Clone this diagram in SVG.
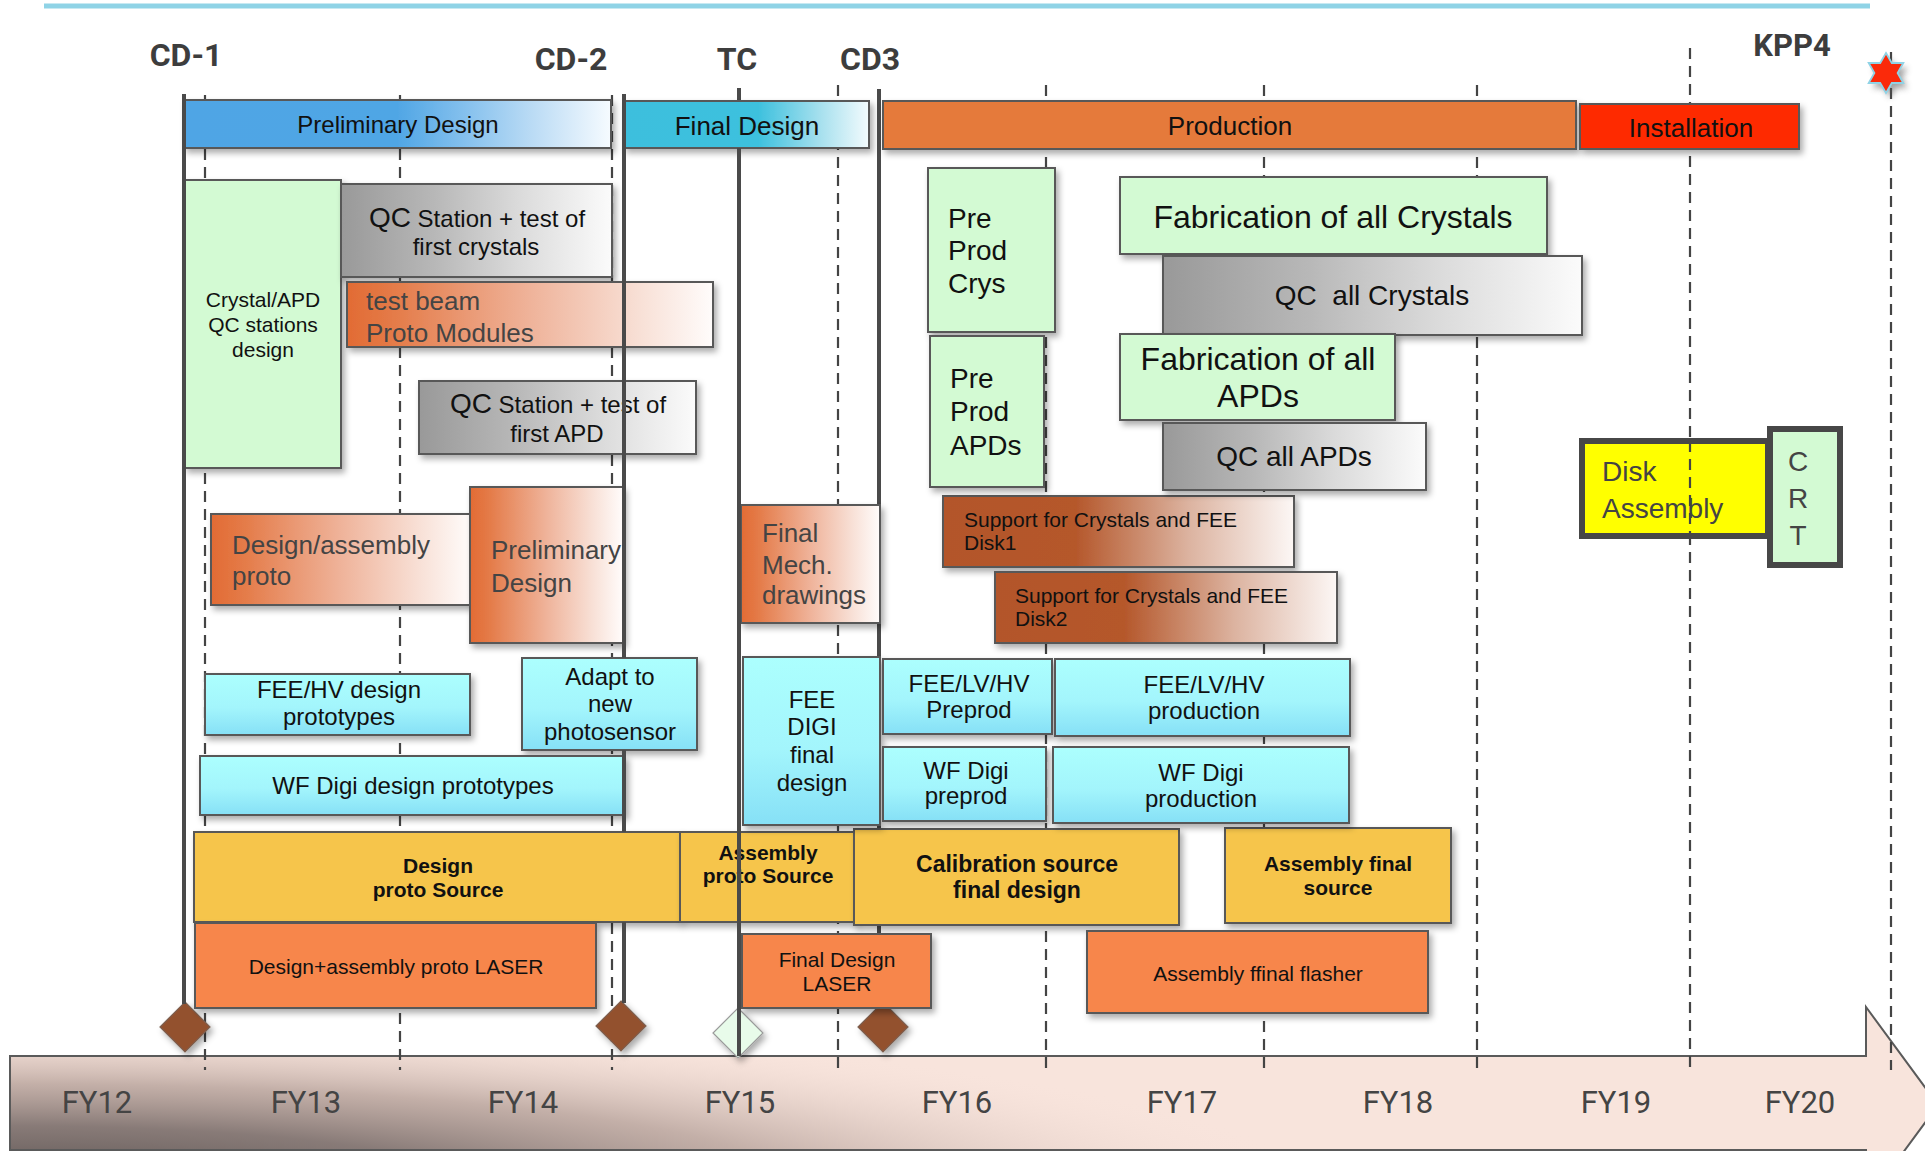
<svg xmlns="http://www.w3.org/2000/svg" width="1925" height="1151" viewBox="0 0 1925 1151">
<defs>
<style>
.t{font-family:"Liberation Sans",Arial,Helvetica,sans-serif;fill:#111}
.c{text-anchor:middle}
.g{fill:#444}
.b{font-weight:bold}
.s21{font-size:21px}.s23{font-size:23px}.s24{font-size:24px}.s26{font-size:26px}.s28{font-size:28px}.s32{font-size:32px}
.box{stroke:#595959;stroke-width:2;filter:url(#sh)}
.dash{stroke:#444;stroke-width:2.2;stroke-dasharray:11 7;fill:none}
.ms{stroke:#4a4a4a;stroke-width:4;fill:none}
.lbl{font-family:Roboto,"Liberation Sans",sans-serif;font-weight:bold;fill:#3d3d3d;font-size:32px;text-anchor:middle}
.fy{font-family:Roboto,"Liberation Sans",sans-serif;fill:#444;font-size:31px;text-anchor:middle}
.green{fill:#d3fad3}
.gray{fill:url(#gGray)}
.org{fill:url(#gOrange)}
.cyan{fill:url(#gCyan)}
.yel{fill:#f6c54b}
.laser{fill:#f7864b}
.brown{fill:url(#gBrown)}
.dia{stroke:#7d6050;stroke-width:1.2;fill:#93512f;filter:url(#sh)}
.thick{stroke:#474747;stroke-width:6}
</style>
<filter id="sh" x="-10%" y="-10%" width="130%" height="140%">
<feDropShadow dx="3" dy="4" stdDeviation="3" flood-color="#000" flood-opacity="0.33"/>
</filter>
<filter id="blur" x="-50%" y="-50%" width="200%" height="200%"><feGaussianBlur stdDeviation="3"/></filter>
<linearGradient id="gBlue" x1="0" y1="0" x2="1" y2="0">
<stop offset="0" stop-color="#4fa5e5"/><stop offset="0.5" stop-color="#50a6e5"/><stop offset="0.65" stop-color="#82bfed"/><stop offset="0.82" stop-color="#bcdcf5"/><stop offset="1" stop-color="#f6fbff"/>
</linearGradient>
<linearGradient id="gFinal" x1="0" y1="0" x2="1" y2="0">
<stop offset="0" stop-color="#3cbfdd"/><stop offset="0.55" stop-color="#3ec1de"/><stop offset="0.8" stop-color="#a6e0ee"/><stop offset="1" stop-color="#f3fbfd"/>
</linearGradient>
<linearGradient id="gGray" x1="0" y1="0" x2="1" y2="0">
<stop offset="0" stop-color="#999"/><stop offset="0.35" stop-color="#b8b8b8"/><stop offset="0.65" stop-color="#dadada"/><stop offset="1" stop-color="#fbfbfb"/>
</linearGradient>
<linearGradient id="gOrange" x1="0" y1="0" x2="1" y2="0">
<stop offset="0" stop-color="#e26b34"/><stop offset="0.12" stop-color="#e47a47"/><stop offset="0.5" stop-color="#efb39a"/><stop offset="0.8" stop-color="#f8e0d6"/><stop offset="1" stop-color="#fffcfb"/>
</linearGradient>
<linearGradient id="gBrown" x1="0" y1="0" x2="1" y2="0">
<stop offset="0" stop-color="#b3552a"/><stop offset="0.38" stop-color="#b5582c"/><stop offset="0.7" stop-color="#dcb3a0"/><stop offset="1" stop-color="#fcf7f5"/>
</linearGradient>
<linearGradient id="gCyan" x1="0" y1="0" x2="0" y2="1">
<stop offset="0" stop-color="#acfffe"/><stop offset="0.55" stop-color="#a3f5fc"/><stop offset="1" stop-color="#86e0f6"/>
</linearGradient>
<radialGradient id="gDark" gradientUnits="userSpaceOnUse" cx="10" cy="1185" r="1300" gradientTransform="translate(0,1185) scale(1,0.13) translate(0,-1185)">
<stop offset="0" stop-color="#5a5250" stop-opacity="1"/><stop offset="0.35" stop-color="#827572" stop-opacity="0.95"/><stop offset="0.6" stop-color="#ad9992" stop-opacity="0.7"/><stop offset="0.85" stop-color="#dfcbc3" stop-opacity="0.3"/><stop offset="1" stop-color="#f8e4dc" stop-opacity="0"/>
</radialGradient>
</defs>

<rect x="0" y="0" width="1925" height="1151" fill="#fff"/>
<rect x="44" y="3.5" width="1826" height="5" fill="#8fd3e6"/>

<g id="timeline">
<path d="M10,1056 H1866 V1007 L1938,1105 L1866,1203 V1150 H10 Z" fill="#f8e4dc" stroke="#5a5a5a" stroke-width="2"/>
<path d="M11,1057 H1866 V1007 L1938,1105 L1866,1203 V1149 H11 Z" fill="url(#gDark)"/>
<text class="fy" x="97" y="1113">FY12</text>
<text class="fy" x="306" y="1113">FY13</text>
<text class="fy" x="523" y="1113">FY14</text>
<text class="fy" x="740" y="1113">FY15</text>
<text class="fy" x="957" y="1113">FY16</text>
<text class="fy" x="1182" y="1113">FY17</text>
<text class="fy" x="1398" y="1113">FY18</text>
<text class="fy" x="1616" y="1113">FY19</text>
<text class="fy" x="1800" y="1113">FY20</text>
</g>

<g id="connectors">
<line class="dash" x1="205" y1="95" x2="205" y2="1070"/>
<line class="dash" x1="400" y1="95" x2="400" y2="1070"/>
<line class="dash" x1="612" y1="95" x2="612" y2="1070"/>
<line class="dash" x1="838" y1="85" x2="838" y2="1070"/>
<line class="dash" x1="1046" y1="85" x2="1046" y2="1070"/>
<line class="dash" x1="1264" y1="85" x2="1264" y2="1070"/>
<line class="dash" x1="1477" y1="85" x2="1477" y2="1070"/>
<line class="dash" x1="1690" y1="48" x2="1690" y2="1070"/>
<line class="dash" x1="1891" y1="52" x2="1891" y2="1070"/>
<line class="ms" x1="879" y1="89" x2="879" y2="1005"/>
<line class="ms" x1="739" y1="88" x2="739" y2="1033"/>
<line class="ms" x1="624" y1="94" x2="624" y2="1003"/>
</g>

<g id="milestones">
<text class="lbl" x="186" y="66">CD-1</text>
<text class="lbl" x="571" y="70">CD-2</text>
<text class="lbl" x="737" y="70">TC</text>
<text class="lbl" x="870" y="70">CD3</text>
<text class="lbl" x="1792" y="56" style="font-size:31px">KPP4</text>
<polygon points="1890,58 1895.8,68 1907.3,68 1901.6,78 1907.3,88 1895.8,88 1890,98 1884.2,88 1872.7,88 1878.4,78 1872.7,68 1884.2,68" fill="#555" opacity="0.55" filter="url(#blur)"/>
<polygon points="1886,53 1891.8,63 1903.3,63 1897.6,73 1903.3,83 1891.8,83 1886,93 1880.2,83 1868.7,83 1874.4,73 1868.7,63 1880.2,63" fill="#fb2a0a" stroke="#8fd3e6" stroke-width="1.8"/>
</g>

<g id="diamonds">
<polygon id="d-cd1" class="dia" points="185,1002 210,1027 185,1052 160,1027"/>
<polygon id="d-cd2" class="dia" points="621,1001 646,1026 621,1051 596,1026"/>
<polygon id="d-cd3" class="dia" points="883,1002 908,1027 883,1052 858,1027"/>
<polygon id="d-tc" class="dia" points="738,1008 763,1033 738,1058 713,1033" style="fill:#e8fbea;stroke:#9a9a9a"/>
</g>

<g id="n-prelim"><rect class="box" x="184" y="100" width="427" height="48" fill="url(#gBlue)"/><text class="t s24 c" x="398" y="133">Preliminary Design</text></g>
<g id="n-final"><rect class="box" x="624" y="101" width="245" height="47" fill="url(#gFinal)"/><text class="t s26 c" x="747" y="135">Final Design</text></g>
<g id="n-production"><rect class="box" x="883" y="101" width="693" height="48" fill="#e57a3a"/><text class="t s26 c" x="1230" y="135">Production</text></g>
<g id="n-install"><rect class="box" x="1580" y="104" width="219" height="45" fill="#fe2b00"/><text class="t s26 c" x="1691" y="137">Installation</text></g>

<g id="n-crysapd"><rect class="box green" x="185" y="180" width="156" height="288"/>
<text class="t s21 c" x="263" y="307">Crystal/APD</text><text class="t s21 c" x="263" y="332">QC stations</text><text class="t s21 c" x="263" y="357">design</text></g>
<g id="n-qccrys"><rect class="box gray" x="341" y="184" width="271" height="93"/>
<text class="t s24 c" x="477" y="227"><tspan style="font-size:28px">QC</tspan> Station + test of</text><text class="t s24 c" x="476" y="255">first crystals</text></g>
<g id="n-testbeam"><rect class="box org" x="347" y="282" width="366" height="65"/>
<text class="t s26 g" x="366" y="310">test beam</text><text class="t s26 g" x="366" y="342">Proto Modules</text></g>
<g id="n-qcapd"><rect class="box gray" x="419" y="381" width="277" height="73"/>
<text class="t s24 c" x="558" y="413"><tspan style="font-size:28px">QC</tspan> Station + test of</text><text class="t s24 c" x="557" y="442">first APD</text></g>

<g id="n-designasm"><rect class="box org" x="211" y="514" width="260" height="91"/>
<text class="t s26 g" x="232" y="554">Design/assembly</text><text class="t s26 g" x="232" y="585">proto</text></g>
<g id="n-prelimorg"><rect class="box org" x="470" y="487" width="153" height="156"/>
<text class="t s26 g" x="491" y="559">Preliminary</text><text class="t s26 g" x="491" y="592">Design</text></g>

<g id="n-feehv"><rect class="box cyan" x="205" y="674" width="265" height="61"/>
<text class="t s24 c" x="339" y="698">FEE/HV design</text><text class="t s24 c" x="339" y="725">prototypes</text></g>
<g id="n-adapt"><rect class="box cyan" x="522" y="658" width="175" height="92"/>
<text class="t s24 c" x="610" y="685">Adapt to</text><text class="t s24 c" x="610" y="712">new</text><text class="t s24 c" x="610" y="740">photosensor</text></g>
<g id="n-wfdesign"><rect class="box cyan" x="200" y="756" width="425" height="59"/>
<text class="t s24 c" x="413" y="794">WF Digi design prototypes</text></g>

<g id="n-srcdesign"><rect class="box yel" x="194" y="832" width="486" height="90"/>
<text class="t s21 b c" x="438" y="873">Design</text><text class="t s21 b c" x="438" y="897">proto Source</text></g>
<g id="n-srcasm"><rect class="box yel" x="680" y="832" width="175" height="90"/>
<text class="t s21 b c" x="768" y="860">Assembly</text><text class="t s21 b c" x="768" y="883">proto Source</text></g>
<g id="n-calib"><rect class="box yel" x="854" y="829" width="325" height="96"/>
<text class="t s23 b c" x="1017" y="872">Calibration source</text><text class="t s23 b c" x="1017" y="898">final design</text></g>
<g id="n-asmfinal"><rect class="box yel" x="1225" y="828" width="226" height="95"/>
<text class="t s21 b c" x="1338" y="871">Assembly final</text><text class="t s21 b c" x="1338" y="895">source</text></g>

<g id="n-laser1"><rect class="box laser" x="195" y="923" width="401" height="85"/>
<text class="t s21 c" x="396" y="974">Design+assembly proto LASER</text></g>
<g id="n-laser2"><rect class="box laser" x="742" y="934" width="189" height="74"/>
<text class="t s21 c" x="837" y="967">Final Design</text><text class="t s21 c" x="837" y="991">LASER</text></g>
<g id="n-flasher"><rect class="box laser" x="1087" y="931" width="341" height="82"/>
<text class="t s21 c" x="1258" y="981">Assembly ffinal flasher</text></g>

<g id="n-mech"><rect class="box org" x="741" y="505" width="139" height="118"/>
<text class="t s26 g" x="762" y="542">Final</text><text class="t s26 g" x="762" y="574">Mech.</text><text class="t s26 g" x="762" y="604">drawings</text></g>
<g id="n-disk1"><rect class="box brown" x="943" y="496" width="351" height="71"/>
<text class="t s21" x="964" y="527">Support for Crystals and FEE</text><text class="t s21" x="964" y="550">Disk1</text></g>
<g id="n-disk2"><rect class="box brown" x="995" y="572" width="342" height="71"/>
<text class="t s21" x="1015" y="603">Support for Crystals and FEE</text><text class="t s21" x="1015" y="626">Disk2</text></g>

<g id="n-feedigi"><rect class="box cyan" x="743" y="657" width="137" height="168"/>
<text class="t s24 c" x="812" y="708">FEE</text><text class="t s24 c" x="812" y="735">DIGI</text><text class="t s24 c" x="812" y="763">final</text><text class="t s24 c" x="812" y="791">design</text></g>
<g id="n-feepre"><rect class="box cyan" x="883" y="659" width="169" height="75"/>
<text class="t s24 c" x="969" y="692">FEE/LV/HV</text><text class="t s24 c" x="969" y="718">Preprod</text></g>
<g id="n-feeprod"><rect class="box cyan" x="1055" y="659" width="295" height="77"/>
<text class="t s24 c" x="1204" y="693">FEE/LV/HV</text><text class="t s24 c" x="1204" y="719">production</text></g>
<g id="n-wfpre"><rect class="box cyan" x="883" y="747" width="163" height="74"/>
<text class="t s24 c" x="966" y="779">WF Digi</text><text class="t s24 c" x="966" y="804">preprod</text></g>
<g id="n-wfprod"><rect class="box cyan" x="1053" y="747" width="296" height="76"/>
<text class="t s24 c" x="1201" y="781">WF Digi</text><text class="t s24 c" x="1201" y="807">production</text></g>

<g id="n-preprodcrys"><rect class="box green" x="928" y="168" width="127" height="164"/>
<text class="t s28" x="948" y="228">Pre</text><text class="t s28" x="948" y="260">Prod</text><text class="t s28" x="948" y="293">Crys</text></g>
<g id="n-preprodapd"><rect class="box green" x="930" y="336" width="114" height="151"/>
<text class="t s28" x="950" y="388">Pre</text><text class="t s28" x="950" y="421">Prod</text><text class="t s28" x="950" y="455">APDs</text></g>
<g id="n-fabcrys"><rect class="box green" x="1120" y="177" width="427" height="77"/>
<text class="t s32 c" x="1333" y="228">Fabrication of all Crystals</text></g>
<g id="n-qcallcrys"><rect class="box gray" x="1163" y="256" width="419" height="79"/>
<text class="t s28 c" x="1372" y="305" xml:space="preserve">QC  all Crystals</text></g>
<g id="n-fabapd"><rect class="box green" x="1120" y="334" width="275" height="86"/>
<text class="t s32 c" x="1258" y="370">Fabrication of all</text><text class="t s32 c" x="1258" y="407">APDs</text></g>
<g id="n-qcallapd"><rect class="box gray" x="1163" y="423" width="263" height="67"/>
<text class="t s28 c" x="1294" y="466">QC all APDs</text></g>

<g id="n-disk"><rect class="thick" x="1582" y="441" width="186" height="95" fill="#ffff00"/>
<text class="t s28 g" x="1602" y="481">Disk</text><text class="t s28 g" x="1602" y="518">Assembly</text></g>
<g id="n-crt"><rect class="thick" x="1770" y="429" width="70" height="136" fill="#d3fad3"/>
<text class="t s28 g c" x="1798" y="471">C</text><text class="t s28 g c" x="1798" y="508">R</text><text class="t s28 g c" x="1798" y="545">T</text></g>

<g id="overlay-lines">
<line class="ms" x1="184" y1="94" x2="184" y2="1004"/>
<line class="ms" x1="624" y1="94" x2="624" y2="658"/>
<line class="ms" x1="624" y1="750" x2="624" y2="832"/>
<line class="ms" x1="624" y1="922" x2="624" y2="1003"/>
<line class="ms" x1="739" y1="148" x2="739" y2="1056"/>
<line class="dash" x1="1690" y1="444" x2="1690" y2="533" style="stroke-dashoffset:3"/>
</g>
</svg>
